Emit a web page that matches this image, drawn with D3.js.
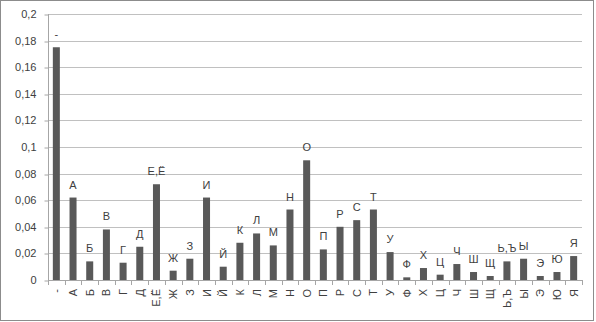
<!DOCTYPE html>
<html>
<head>
<meta charset="utf-8">
<script src="https://cdn.jsdelivr.net/npm/d3@7"></script>
<style>
  body { margin: 0; background: #fff; }
  text { font-family: "Liberation Sans", Arial, sans-serif; fill: #404040; }
</style>
</head>
<body>
<div id="chart"></div>
<script>
// letters (categories)
var letters = ["-", "А", "Б", "В", "Г", "Д", "Е,Ё", "Ж", "З", "И", "Й", "К", "Л", "М", "Н", "О",
  "П", "Р", "С", "Т", "У", "Ф", "Х", "Ц", "Ч", "Ш", "Щ", "Ь,Ъ", "Ы", "Э", "Ю", "Я"];

// frequency values
var freq = [0.175, 0.062, 0.014, 0.038, 0.013, 0.025, 0.072, 0.007, 0.016, 0.062, 0.010, 0.028, 0.035, 0.026, 0.053, 0.090,
  0.023, 0.040, 0.045, 0.053, 0.021, 0.002, 0.009, 0.004, 0.012, 0.006, 0.003, 0.014, 0.016, 0.003, 0.006, 0.018];

// y tick values
var yTicks = [0, 0.02, 0.04, 0.06, 0.08, 0.1, 0.12, 0.14, 0.16, 0.18, 0.2];

var width = 596, height = 322;
var plotLeft = 48, plotRight = 582, plotTop = 14, plotBottom = 280;

var svg = d3.select("#chart").append("svg")
    .attr("width", width)
    .attr("height", height);

// outer border
svg.append("rect")
    .attr("x", 0.5).attr("y", 0.5)
    .attr("width", 593).attr("height", 320)
    .attr("fill", "#fff")
    .attr("stroke", "#8c8c8c");

var x = d3.scaleBand()
    .domain(letters)
    .range([plotLeft, plotRight])
    .paddingInner(0.58)
    .paddingOuter(0.29);

var y = d3.scaleLinear()
    .domain([0, 0.2])
    .range([plotBottom, plotTop]);

var fmt = function (v) { return String(+v.toFixed(2)).replace(".", ","); };
var snap = function (v) { return Math.round(v) + 0.5; };

// gridlines
svg.append("g")
    .selectAll("line")
    .data(yTicks.slice(1))
    .enter()
    .append("line")
    .attr("x1", plotLeft).attr("x2", plotRight)
    .attr("y1", d => snap(y(d)))
    .attr("y2", d => snap(y(d)))
    .attr("stroke", "#c0c0c0");

// y axis
var yAxis = svg.append("g")
    .attr("transform", "translate(" + (plotLeft + 0.5) + ",0)")
    .call(d3.axisLeft(y).tickValues(yTicks).tickFormat(fmt).tickSize(4).tickPadding(8));
yAxis.select(".domain").attr("stroke", "#a6a6a6").attr("d", "M0," + plotTop + "V" + plotBottom);
yAxis.selectAll(".tick line")
    .attr("stroke", "#a6a6a6")
    .attr("y1", d => snap(y(d)) - y(d))
    .attr("y2", d => snap(y(d)) - y(d));
yAxis.selectAll(".tick text")
    .style("font-size", "11px")
    .attr("fill", "#404040");

// bars
svg.append("g")
    .selectAll("rect")
    .data(freq)
    .enter()
    .append("rect")
    .attr("x", (d, i) => x(letters[i]))
    .attr("width", x.bandwidth())
    .attr("y", d => y(d))
    .attr("height", d => y(0) - y(d))
    .attr("fill", "#595959");

// x axis baseline and ticks between categories
var xg = svg.append("g");
xg.append("line")
    .attr("x1", plotLeft).attr("x2", plotRight)
    .attr("y1", plotBottom + 0.5).attr("y2", plotBottom + 0.5)
    .attr("stroke", "#a6a6a6");
xg.selectAll(".xt")
    .data(d3.range(letters.length + 1))
    .enter()
    .append("line")
    .attr("class", "xt")
    .attr("x1", i => snap(plotLeft + i * x.step()))
    .attr("x2", i => snap(plotLeft + i * x.step()))
    .attr("y1", plotBottom).attr("y2", plotBottom + 5)
    .attr("stroke", "#a6a6a6");

// rotated category labels
xg.selectAll(".xl")
    .data(letters)
    .enter()
    .append("text")
    .attr("class", "xl")
    .attr("text-anchor", "end")
    .style("font-size", "11px")
    .attr("transform", d => "translate(" + (x(d) + x.bandwidth() / 2 + 4) + "," + 289 + ") rotate(-90)")
    .text(d => d);

// data labels (category names above bars)
svg.append("g")
    .selectAll("text")
    .data(freq)
    .enter()
    .append("text")
    .attr("text-anchor", "middle")
    .style("font-size", "11px")
    .attr("x", (d, i) => x(letters[i]) + x.bandwidth() / 2)
    .attr("y", d => y(d) - 9)
    .text((d, i) => letters[i]);
</script>
</body>
</html>
